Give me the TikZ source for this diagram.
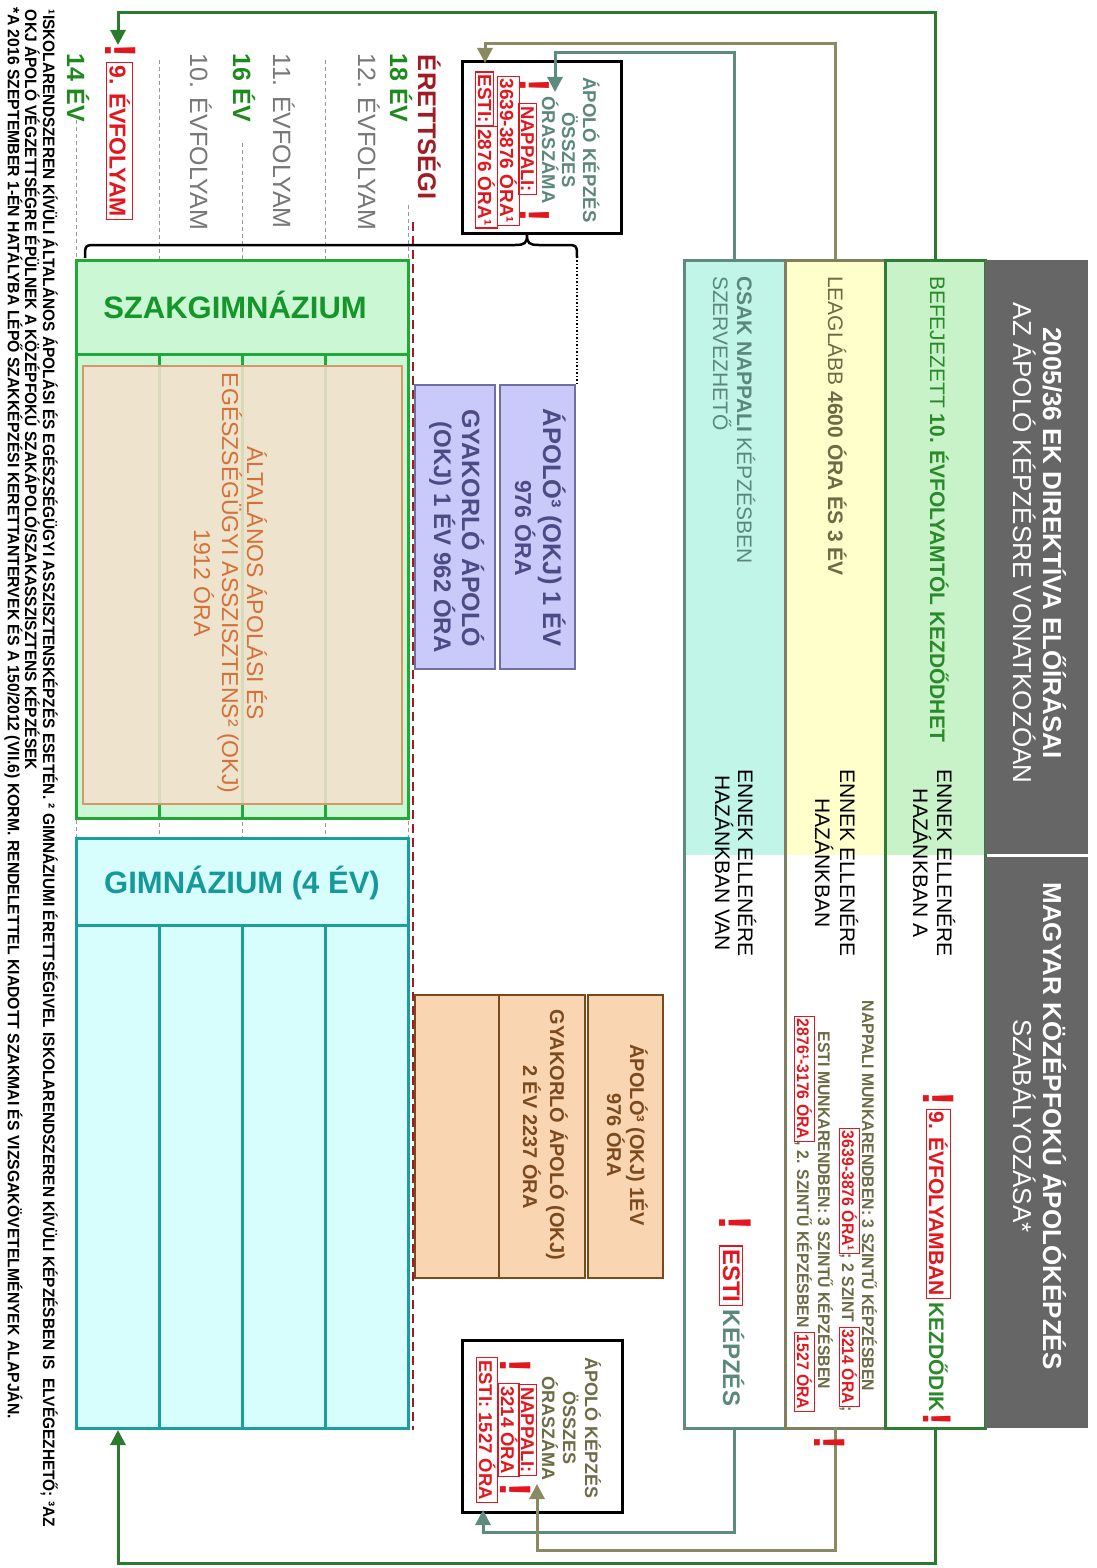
\documentclass[tikz,border=0pt]{standalone}
\usepackage{fontspec}
\setmainfont{Liberation Sans}
\usepackage{graphicx}
\usetikzlibrary{arrows.meta}

\definecolor{hdrgray}{HTML}{666666}
\definecolor{gfill}{HTML}{C8F2C8}
\definecolor{gline}{HTML}{2E7D32}
\definecolor{gtext}{HTML}{2A8A2A}
\definecolor{yfill}{HTML}{FFFFCC}
\definecolor{yline}{HTML}{808060}
\definecolor{ytext}{HTML}{6B6B45}
\definecolor{tfill}{HTML}{C0F5E8}
\definecolor{tline}{HTML}{5F8A80}
\definecolor{ttext}{HTML}{5B877C}
\definecolor{rred}{HTML}{E3161E}
\definecolor{dkred}{HTML}{A01C24}
\definecolor{agegreen}{HTML}{1E8A1E}
\definecolor{gradegray}{HTML}{777777}
\definecolor{szline}{HTML}{22A838}
\definecolor{szfill}{HTML}{CCF7D4}
\definecolor{sztext}{HTML}{15962A}
\definecolor{tanfill}{HTML}{F3E1CC}
\definecolor{tanline}{HTML}{D4976A}
\definecolor{tantext}{HTML}{D2713A}
\definecolor{gyline}{HTML}{1A9E9E}
\definecolor{gyfill}{HTML}{D8FDFD}
\definecolor{gytext}{HTML}{16999A}
\definecolor{pfill}{HTML}{C9C9FA}
\definecolor{pline}{HTML}{6F6FA0}
\definecolor{ptext}{HTML}{4B4B86}
\definecolor{bfill}{HTML}{F9D5B1}
\definecolor{bline}{HTML}{7B4A1C}
\definecolor{btext}{HTML}{7B4A1E}
\definecolor{olivecon}{HTML}{8A8A62}
\definecolor{greencon}{HTML}{2B7A2E}

\newcommand\rbox[1]{{\color{rred}\setlength\fboxsep{.1em}\setlength\fboxrule{1.2pt}\fbox{#1}}}
\newcommand\fsz[2]{\fontsize{#1}{#2}\selectfont}
\newcommand\cnd[1]{\scalebox{0.94}[1]{#1}}

\tikzset{
  rt/.style={rotate=-90, inner sep=0pt, outer sep=0pt},
  bx/.style={anchor=north west, inner sep=0pt, outer sep=0pt},
  guide/.style={draw=gray!80, line width=1pt, dash pattern=on 4pt off 3pt},
  conn/.style={line width=3pt, -{Triangle[length=15pt,width=15pt]}},
  excl/.style={rotate=-90, inner sep=0pt, text=rred, font=\bfseries\fsz{#1}{#1}},
  ylow/.style={rt, anchor=base east, text=ytext, font=\bfseries\fsz{16.8}{20}},
}

\begin{document}
\begin{tikzpicture}[x=1pt,y=-1pt]
\useasboundingbox (0,0) rectangle (1096,1568);
\fill[white] (0,0) rectangle (1096,1568);

% ---------- guide lines ----------
\foreach \xx/\yy in {76/120,159/60,242/143,325/60,408/205}
  \draw[guide] (\xx,\yy) -- (\xx,1428);
\draw[dkred, line width=1.5pt, dash pattern=on 9pt off 5pt] (413,222) -- (413,1430);

% ---------- Szakgimnazium ----------
\node[bx, fill=szfill, draw=szline, line width=3pt, minimum width=332pt, minimum height=558pt] (szak) at (76,260) {};
\draw[szline, line width=3pt] (76,354) -- (408,354);
\foreach \xx in {159,242,325} \draw[szline, line width=3pt] (\xx,354) -- (\xx,818);
\node[bx, fill=tanfill, fill opacity=0.88, draw=tanline, line width=2.5pt, minimum width=319pt, minimum height=438pt] (okj) at (83,366) {};
\node[anchor=base, text=sztext, font=\bfseries\fsz{31}{36}] (szaklbl) at (235,318) {SZAKGIMNÁZIUM};
\node[rt, anchor=base, text=tantext, font=\fsz{23}{27}] (okj1) at (247,583) {ÁLTALÁNOS ÁPOLÁSI ÉS};
\node[rt, anchor=base, text=tantext, font=\fsz{23}{27}] (okj2) at (222,583) {EGÉSZSÉGÜGYI ASSZISZTENS² (OKJ)};
\node[rt, anchor=base, text=tantext, font=\fsz{23}{27}] (okj3) at (194,583) {1912 ÓRA};

% ---------- Gimnazium ----------
\node[bx, fill=gyfill, draw=gyline, line width=3pt, minimum width=332pt, minimum height=590pt] (gym) at (76,838) {};
\draw[gyline, line width=3pt] (76,925) -- (408,925);
\foreach \xx in {159,242,325} \draw[gyline, line width=3pt] (\xx,925) -- (\xx,1428);
\node[anchor=base, text=gytext, font=\bfseries\fsz{31}{36}] (gymlbl) at (242,893) {GIMNÁZIUM (4 ÉV)};

% ---------- purple boxes ----------
\node[bx, fill=pfill, draw=pline, line width=2.5pt, minimum width=80pt, minimum height=284pt] (gyak1) at (415,385) {};
\node[bx, fill=pfill, draw=pline, line width=2.5pt, minimum width=75pt, minimum height=284pt] (apolo1) at (500,385) {};
\node[rt, anchor=base, text=ptext, font=\bfseries\fsz{25.5}{28}] (p1a) at (543,528) {ÁPOLÓ³ (OKJ) 1 ÉV};
\node[rt, anchor=base, text=ptext, font=\bfseries\fsz{23}{26}] (p1b) at (515,528) {976 ÓRA};
\node[rt, anchor=base, text=ptext, font=\bfseries\fsz{25}{28}] (p2a) at (462,528) {GYAKORLÓ ÁPOLÓ};
\node[rt, anchor=base, text=ptext, font=\bfseries\fsz{24}{28}] (p2b) at (434,537) {(OKJ) 1 ÉV 962 ÓRA};

% ---------- tan boxes ----------
\node[bx, fill=bfill, draw=bline, line width=2.5pt, minimum width=84pt, minimum height=283pt] (gyak2a) at (415,995) {};
\node[bx, fill=bfill, draw=bline, line width=2.5pt, minimum width=86pt, minimum height=283pt] (gyak2) at (499,995) {};
\node[bx, fill=bfill, draw=bline, line width=2.5pt, minimum width=75pt, minimum height=283pt] (apolo2) at (588,995) {};
\node[rt, anchor=base, text=btext, font=\bfseries\fsz{20}{24}] (b1a) at (630,1135) {ÁPOLÓ³ (OKJ) 1ÉV};
\node[rt, anchor=base, text=btext, font=\bfseries\fsz{20}{24}] (b1b) at (607,1135) {976 ÓRA};
\node[rt, anchor=base, text=btext, font=\bfseries\fsz{20}{24}] (b2a) at (550,1135) {GYAKORLÓ ÁPOLÓ (OKJ)};
\node[rt, anchor=base, text=btext, font=\bfseries\fsz{20}{24}] (b2b) at (523,1137) {2 ÉV 2237 ÓRA};

% ---------- total-hours boxes ----------
\node[bx, fill=white, draw=black, line width=3pt, minimum width=159pt, minimum height=171pt] (sumtop) at (462,62) {};
\node[bx, fill=white, draw=black, line width=3pt, minimum width=160pt, minimum height=172pt] (sumbot) at (462,1340) {};

\node[rt, anchor=base, text=ttext, font=\bfseries\fsz{18.5}{22}] (s1a) at (583,150) {ÁPOLÓ KÉPZÉS};
\node[rt, anchor=base, text=ttext, font=\bfseries\fsz{18.5}{22}] (s1b) at (562,150) {ÖSSZES};
\node[rt, anchor=base, text=ttext, font=\bfseries\fsz{18.5}{22}] (s1c) at (542,150) {ÓRASZÁMA};
\node[rt, anchor=base, font=\bfseries\fsz{18.5}{22}] (s1d) at (521,149) {\rbox{NAPPALI:}};
\node[rt, anchor=base, font=\bfseries\fsz{19}{22}] (s1e) at (500,151) {\rbox{3639-3876 ÓRA¹}};
\node[rt, anchor=base, font=\bfseries\fsz{19}{22}] (s1f) at (478,150) {\rbox{ESTI:}\rbox{2876 ÓRA¹}};

\node[rt, anchor=base, text=ytext, font=\bfseries\fsz{18}{22}] (s2a) at (585,1428) {ÁPOLÓ KÉPZÉS};
\node[rt, anchor=base, text=ytext, font=\bfseries\fsz{18}{22}] (s2b) at (563,1428) {ÖSSZES};
\node[rt, anchor=base, text=ytext, font=\bfseries\fsz{18}{22}] (s2c) at (542,1428) {ÓRASZÁMA};
\node[rt, anchor=base, font=\bfseries\fsz{18.5}{22}] (s2d) at (521,1430) {\rbox{NAPPALI:}};
\node[rt, anchor=base, font=\bfseries\fsz{18.5}{22}] (s2e) at (501,1430) {\rbox{3214 ÓRA}};
\node[rt, anchor=base, font=\bfseries\fsz{18.5}{22}] (s2f) at (479,1430) {\rbox{ESTI: 1527 ÓRA}};

% ---------- header columns ----------
\fill[tfill] (684,260) rectangle (785,855);
\fill[yfill] (785,260) rectangle (885,855);
\fill[gfill] (885,260) rectangle (985,855);
\node[bx, draw=tline, line width=3pt, minimum width=101pt, minimum height=1168pt] (tcol) at (684,260) {};
\node[bx, draw=yline, line width=3pt, minimum width=100pt, minimum height=1168pt] (ycol) at (785,260) {};
\node[bx, draw=gline, line width=3pt, minimum width=100pt, minimum height=1168pt] (gcol) at (885,260) {};
\node[bx, fill=hdrgray, minimum width=103pt, minimum height=593.5pt] (hdrU) at (985,260) {};
\node[bx, fill=hdrgray, minimum width=103pt, minimum height=571.5pt] (hdrL) at (985,856.5) {};

\node[rt, anchor=base, text=white, font=\bfseries\fsz{26}{30}] (h1a) at (1043,543) {2005/36 EK DIREKTÍVA ELŐÍRÁSAI};
\node[rt, anchor=base, text=white, font=\fsz{26}{30}] (h1b) at (1013,543) {AZ ÁPOLÓ KÉPZÉSRE VONATKOZÓAN};
\node[rt, anchor=base, text=white, font=\bfseries\fsz{26}{30}] (h2a) at (1043,1126) {MAGYAR KÖZÉPFOKÚ ÁPOLÓKÉPZÉS};
\node[rt, anchor=base, text=white, font=\fsz{26}{30}] (h2b) at (1013,1126) {SZABÁLYOZÁSA*};

% green column
\node[rt, anchor=base west, text=gtext, font=\fsz{21}{25}] (gU1) at (930,276) {BEFEJEZETT \textbf{10. ÉVFOLYAMTÓL KEZDŐDHET}};
\node[rt, anchor=base, font=\fsz{21}{25}] (gE1) at (937,863) {ENNEK ELLENÉRE};
\node[rt, anchor=base, font=\fsz{21}{25}] (gE2) at (913,863) {HAZÁNKBAN A};
\node[rt, anchor=base east, font=\bfseries\fsz{21}{25}] (gL) at (929,1412) {\rbox{9. ÉVFOLYAMBAN}\,\textcolor{gtext}{KEZDŐDIK}};

% yellow column
\node[rt, anchor=base west, text=ytext, font=\fsz{21}{25}] (yU1) at (828,276) {LEAGLÁBB \textbf{4600 ÓRA ÉS 3 ÉV}};
\node[rt, anchor=base, font=\fsz{21}{25}] (yE1) at (840,863) {ENNEK ELLENÉRE};
\node[rt, anchor=base, font=\fsz{21}{25}] (yE2) at (815,863) {HAZÁNKBAN};
\node[ylow] (yL1) at (862,1391) {\cnd{NAPPALI MUNKARENDBEN: 3 SZINTŰ KÉPZÉSBEN}};
\node[ylow] (yL2) at (842,1412) {\cnd{\rbox{3639-3876 ÓRA¹}; 2 SZINT \rbox{3214 ÓRA};}};
\node[ylow] (yL3) at (818,1389) {\cnd{ESTI MUNKARENDBEN: 3 SZINTŰ KÉPZÉSBEN}};
\node[ylow] (yL4) at (797,1412) {\cnd{\rbox{2876¹-3176 ÓRA}, 2. SZINTŰ KÉPZÉSBEN \rbox{1527 ÓRA}}};

% teal column
\node[rt, anchor=base west, text=ttext, font=\fsz{21}{25}] (tU1) at (737,276) {\textbf{CSAK NAPPALI} KÉPZÉSBEN};
\node[rt, anchor=base west, text=ttext, font=\fsz{21}{25}] (tU2) at (713,276) {SZERVEZHETŐ};
\node[rt, anchor=base, font=\fsz{21}{25}] (tE1) at (738,863) {ENNEK ELLENÉRE};
\node[rt, anchor=base, font=\fsz{21}{25}] (tE2) at (715,863) {HAZÁNKBAN VAN};
\node[rt, anchor=base east, font=\bfseries\fsz{24}{28}] (tL) at (723,1406) {\rbox{ESTI}\,\textcolor{ttext}{KÉPZÉS}};

% ---------- year labels ----------
\node[rt, anchor=base west, text=agegreen, font=\bfseries\fsz{25}{29}] (a14) at (67,54) {14 ÉV};
\node[rt, anchor=base west, font=\bfseries\fsz{23}{27}] (g9) at (109.5,62) {\rbox{9. ÉVFOLYAM}};
\node[rt, anchor=base west, text=gradegray, font=\fsz{25}{29}] (g10) at (190,54) {10. ÉVFOLYAM};
\node[rt, anchor=base west, text=agegreen, font=\bfseries\fsz{25}{29}] (a16) at (233,54) {16 ÉV};
\node[rt, anchor=base west, text=gradegray, font=\fsz{25}{29}] (g11) at (273,54) {11. ÉVFOLYAM};
\node[rt, anchor=base west, text=gradegray, font=\fsz{25}{29}] (g12) at (358,54) {12. ÉVFOLYAM};
\node[rt, anchor=base west, text=agegreen, font=\bfseries\fsz{25}{29}] (a18) at (390,54) {18 ÉV};
\node[rt, anchor=base west, text=dkred, font=\bfseries\fsz{25.5}{29}] (er) at (418,55) {ÉRETTSÉGI};

% ---------- brace and dotted link ----------
\draw[black, line width=2.5pt] (85,258) .. controls (85,245) .. (97,245) -- (515,245)
  .. controls (525,245) and (527,243) .. (527,235)
  .. controls (527,243) and (529,245) .. (539,245) -- (565,245)
  .. controls (577,245) .. (577,258);
\coordinate (dotTop) at (577,260);
\draw[black, line width=1.5pt, dotted] (dotTop) -- (apolo1.north east -| dotTop);

% ---------- connectors ----------
\coordinate (nineTip) at (118,45);
\coordinate (gymTip) at (118,1430);
\coordinate (tTopTip) at (555,92);
\coordinate (yTopTip) at (485,63);
\coordinate (tBotTip) at (483,1510);
\coordinate (yBotTip) at (537,1484);
\draw[conn, greencon] (gcol.north) |- (118,13) -- (nineTip);
\draw[conn, greencon] (gcol.south) |- (118,1563) -- (gymTip);
\draw[conn, tline] (tcol.north) |- (555,53) -- (tTopTip);
\draw[conn, olivecon] (ycol.north) |- (485,44) -- (yTopTip);
\draw[conn, tline] (tcol.south) |- (483,1532) -- (tBotTip);
\draw[conn, olivecon] (ycol.south) |- (537,1550) -- (yBotTip);

% ---------- exclamation marks ----------
\node[excl=44] (x1) at (121,51) {!};
\node[excl=44] (x2) at (939,1099) {!};
\node[excl=40] (x3) at (937,1419) {!};
\node[excl=44] (x4) at (830,1443) {!};
\node[excl=46] (x5) at (735,1223) {!};
\node[excl=42] (x6) at (535,85) {!};
\node[excl=42] (x7) at (535,215) {!};
\node[excl=44] (x8) at (516,1366) {!};
\node[excl=44] (x9) at (516,1490) {!};

% ---------- footnotes ----------
\node[rt, anchor=base west, font=\bfseries\fsz{16.5}{19}] (fn1) at (43,10) {\resizebox{1517pt}{\height}{¹ISKOLARENDSZEREN KÍVÜLI ÁLTALÁNOS ÁPOLÁSI ÉS EGÉSZSÉGÜGYI ASSZISZTENSKÉPZÉS ESETÉN. ² GIMNÁZIUMI ÉRETTSÉGIVEL ISKOLARENDSZEREN KÍVÜLI KÉPZÉSBEN IS\ \ ELVÉGEZHETŐ; ³AZ}};
\node[rt, anchor=base west, font=\bfseries\fsz{16.5}{19}] (fn2) at (25,10) {\resizebox{760pt}{\height}{OKJ ÁPOLÓ VÉGZETTSÉGRE ÉPÜLNEK A KÖZÉPFOKÚ SZAKÁPOLÓ/SZAKASSZISZTENS KÉPZÉSEK}};
\node[rt, anchor=base west, font=\bfseries\fsz{16.5}{19}] (fn3) at (8,8) {\resizebox{1411pt}{\height}{*A 2016 SZEPTEMBER 1-ÉN HATÁLYBA LÉPŐ SZAKKÉPZÉSI KERETTANTERVEK ÉS A 150/2012 (VII.6) KORM. RENDELETTEL KIADOTT SZAKMAI ÉS VIZSGAKÖVETELMÉNYEK ALAPJÁN.}};
\end{tikzpicture}
\end{document}
